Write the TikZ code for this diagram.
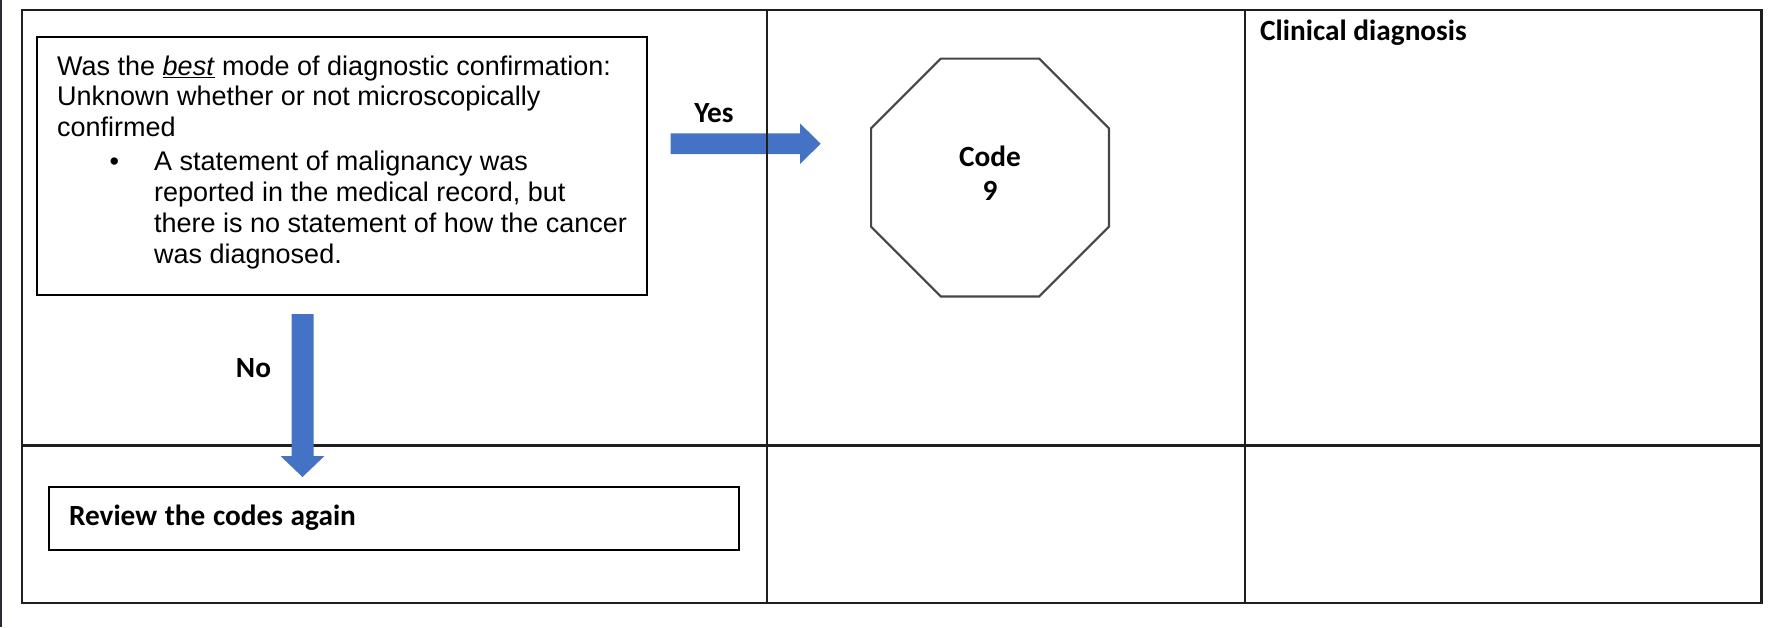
\documentclass[tikz,border=0pt]{standalone}
\usepackage{fontspec}
\setmainfont{Liberation Sans}
\newfontfamily\calibri{Carlito}
\usetikzlibrary{shapes.geometric}
\definecolor{arrowblue}{HTML}{4472C4}
\definecolor{rulegray}{HTML}{1E1E1E}
\definecolor{octgray}{HTML}{454545}
\definecolor{edgegray}{HTML}{2B2B35}
\begin{document}
\begin{tikzpicture}[x=1pt,y=-1pt,
  tableline/.style={draw=rulegray, line width=2.2pt},
  box/.style={draw=black, line width=2pt, inner sep=0},
  lbl/.style={font=\calibri\bfseries\fontsize{29.3}{34}\selectfont, inner sep=0},
  body/.style={font=\fontsize{27}{30.8}\selectfont, align=left, inner sep=0},
  blockarrow/.style={fill=arrowblue, draw=none}]
\path[use as bounding box] (0,0) rectangle (1786,627);

% page edge
\draw[edgegray, line width=2.4pt] (1.2,0) -- (1.2,627);

% "Yes" block arrow (sits under the column rule)
\coordinate (yestail) at (670.5,143.7);
\coordinate (yestip) at (820.7,143.7);
\fill[blockarrow] (yestail) ++(0,-10.3) -- ++(129.5,0) -- ++(0,-10) -- (yestip)
  -- ++(-20.7,20.3) -- ++(0,-10) -- ++(-129.5,0) -- cycle;

% table grid
\draw[tableline] (21.7,10.3) rectangle (1761.5,603.3);
\draw[tableline] (21.7,445.5) -- (1761.5,445.5);
\draw[tableline] (766.7,10.3) -- (766.7,603.3);
\draw[tableline] (1245,10.3) -- (1245,603.3);

% "No" block arrow (over the row rule)
\coordinate (notail) at (302.5,314);
\coordinate (notip) at (302.5,477);
\fill[blockarrow] (notail) ++(-11,0) -- ++(22,0) -- ++(0,142) -- ++(11,0) -- (notip)
  -- ++(-22,-21) -- ++(11,0) -- ++(0,-142) -- cycle;

% question box
\node[box, minimum width=610, minimum height=257.8] (q) at (342,165.6) {};
\node[body, anchor=north west] (qtext) at (57,55.3) {%
Was the \underline{\textit{best}} mode of diagnostic confirmation:\\
Unknown whether or not microscopically\\
confirmed\\[3.5pt]
\hspace*{52.4pt}\makebox[44.6pt][l]{\textbullet}A statement of malignancy was\\
\hspace*{97pt}reported in the medical record, but\\
\hspace*{97pt}there is no statement of how the cancer\\
\hspace*{97pt}was diagnosed.};

% outcome: stop sign
\node[draw=octgray, line width=2.2pt, regular polygon, regular polygon sides=8,
  minimum size=257.4, inner sep=0] (stop) at (990,177.5) {};
\node[lbl, align=center] (stoptext) at (990,173.6) {Code\\9};

% review box
\node[box, lbl, minimum height=63, text width=649.5, inner xsep=20.5, align=left]
  (review) at (393.75,518) {\mbox{\spaceskip=0.26em Review the codes again}};

% labels
\node[lbl, anchor=base] (yes) at (714,122) {Yes};
\node[lbl, anchor=base] (no) at (253.5,377.3) {No};
\node[lbl, anchor=base west] (clin) at (1260,40) {Clinical diagnosis};
\end{tikzpicture}
\end{document}
